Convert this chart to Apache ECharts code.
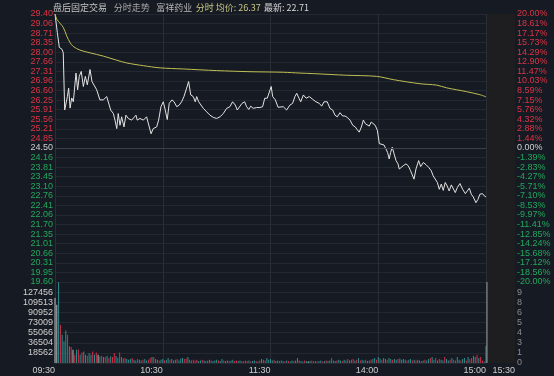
<!DOCTYPE html>
<html><head><meta charset="utf-8">
<script src="https://cdn.jsdelivr.net/npm/echarts@6/dist/echarts.min.js"></script>
<style>html,body{margin:0;padding:0;background:#161a22;}#c{width:554px;height:376px;}</style>
</head><body><div id="c"></div>
<script>
const prevClose = 24.50;
const priceTickLabels = ['29.40','29.06','28.71','28.35','28.00','27.66','27.31','26.96','26.60','26.25','25.91','25.56','25.21','24.85','24.50','24.16','23.81','23.45','23.10','22.76','22.41','22.06','21.70','21.35','21.01','20.66','20.31','19.95','19.60'];
const pctTickLabels = ['20.00%','18.61%','17.17%','15.73%','14.29%','12.90%','11.47%','10.03%','8.59%','7.15%','5.76%','4.32%','2.88%','1.44%','0.00%','-1.39%','-2.83%','-4.27%','-5.71%','-7.10%','-8.53%','-9.97%','-11.41%','-12.85%','-14.24%','-15.68%','-17.12%','-18.56%','-20.00%'];
const volTickLabels = ['','18562','36504','55066','73009','90952','109513','127456',''];
const ahVolTickLabels = ['0','1','3','4','5','6','8','9',''];
const timeLabels = ['09:30','10:30','11:30','14:00','15:00'];
const headerStock = '富祥药业';
const avgPrice = '26.37';
const lastPrice = '22.71';

const priceMinutes = [0,1.3,2.4,3.2,3.9,4.6,5.4,6.1,6.9,7.6,8.4,9.3,10.2,11.7,12.6,13.5,14.6,15.8,16.9,18.0,19.5,20.6,21.7,23.2,25.0,26.9,28.8,29.9,31.0,32.5,33.4,34.4,35.2,36.2,37.1,38.4,39.5,40.8,42.7,43.6,45.1,45.8,47.3,49.2,51.0,52.5,53.5,54.7,56.6,57.7,59.0,60.3,61.4,62.5,63.6,65.1,66.3,67.8,69.2,70.5,71.8,73.3,74.4,75.6,77.0,78.1,78.9,80.0,81.1,82.6,84.5,86.3,88.1,90.0,91.9,93.7,95.6,97.4,98.9,99.7,100.4,101.5,102.6,104.1,105.6,106.7,107.9,109.0,110.4,112.3,114.1,115.6,116.8,118.2,119.3,120.4,121.2,122.7,124.2,125.3,127.1,129.0,130.8,132.3,133.6,134.6,135.5,136.8,138.3,139.8,141.6,143.5,145.3,147.2,148.5,149.8,151.6,153.1,154.6,155.9,157.2,158.7,160.2,161.5,162.7,164.3,165.8,167.2,168.3,169.4,170.6,171.7,172.8,173.9,175.0,176.1,177.2,178.3,179.5,180.6,181.7,183.2,184.3,185.2,186.1,186.9,187.8,188.8,189.9,191.0,191.7,192.8,193.9,195.4,196.7,198.0,199.9,201.0,202.5,203.6,205.1,206.6,208.1,209.5,210.6,211.7,212.9,214.0,215.1,216.2,217.3,218.4,219.5,220.7,221.8,222.9,224.0,225.5,227.0,228.5,229.6,230.7,231.8,232.9,234.4,235.5,236.6,238.1,239.2,240];
const priceValues = [29.40,28.72,28.18,28.23,28.11,27.98,25.89,25.89,26.38,26.69,25.96,26.33,26.19,27.24,26.63,27.12,27.30,26.75,27.12,26.81,27.37,26.93,27.00,26.63,26.26,26.26,26.38,26.44,25.89,25.76,25.52,25.21,25.76,25.33,25.64,25.27,25.70,25.58,25.52,25.58,25.70,25.52,25.58,25.52,25.64,25.27,25.02,25.21,25.27,25.52,26.01,26.19,25.89,25.54,26.13,26.26,26.19,26.01,26.07,26.19,26.38,26.69,26.93,26.44,26.38,26.19,26.38,26.19,26.26,25.95,25.82,25.70,25.62,25.58,25.64,25.76,25.95,26.01,26.19,26.26,26.07,25.89,25.95,26.13,26.19,26.01,25.91,26.03,25.95,25.98,25.98,26.01,26.32,26.32,26.26,26.75,26.38,26.26,25.99,25.95,26.01,25.89,26.07,26.13,26.38,26.50,26.50,26.19,26.44,26.32,26.38,26.28,26.19,26.13,26.03,26.19,26.19,25.95,25.89,25.70,25.64,25.79,25.67,25.67,25.62,25.52,25.33,25.27,25.17,25.08,25.27,25.52,25.39,25.39,25.30,25.45,25.48,25.33,25.15,24.66,24.59,24.61,24.59,24.34,24.10,24.34,24.53,24.29,24.04,23.92,23.73,23.79,23.85,23.92,23.85,23.67,23.36,23.73,24.04,23.82,23.97,23.89,23.79,23.67,23.48,23.48,23.24,22.99,23.18,22.95,23.24,23.11,22.93,23.15,23.08,22.87,23.05,23.20,22.99,22.83,22.93,23.03,22.81,22.71,22.50,22.62,22.81,22.83,22.74,22.71];

const avgMinutes = [0,1.1,4.6,6.5,8.4,10.2,13.9,19.5,26.9,34.4,39.9,49.2,58.5,71.4,90,108.6,127.1,136.4,143.8,162.4,179.1,188.4,203.2,212.5,218.1,229.2,236.6,240];
const avgValues = [29.40,29.20,28.91,28.60,28.35,28.21,28.08,27.98,27.86,27.71,27.61,27.51,27.43,27.39,27.33,27.29,27.27,27.24,27.22,27.16,27.12,27.00,26.85,26.80,26.70,26.56,26.45,26.37];

const volumes = [116900,104900,145000,68900,50900,38900,58600,50900,29900,28700,23900,15000,23900,24500,15000,19100,20900,15000,13100,18000,15000,20900,15000,19100,15000,11900,13100,10800,10800,13100,
9000,12000,11000,18000,12500,9500,19100,10800,8000,9000,7200,6000,7200,9000,6000,4700,7200,6000,4700,6000,7200,4700,6000,9000,10800,10800,7200,6000,4700,6000,
7200,4700,6000,9000,6000,7200,4700,6000,7200,4700,8000,9000,7200,8000,10800,6000,4700,6000,4700,6000,3500,4700,6000,4700,3500,4700,6000,4700,3500,4700,
6000,4700,3500,7200,4700,3500,4700,3500,4700,6000,3500,4700,3500,4700,3500,2900,4700,3500,4700,2900,3500,4700,3500,2900,4700,7200,6000,4700,9000,6000,
7200,4700,6000,3500,4700,3500,4700,3500,2900,4700,3500,2900,4700,3500,4700,9000,4700,3500,2900,4700,3500,2900,3500,4700,2900,3500,2900,3500,4700,2900,
3500,4700,3500,4700,9000,4700,3500,4700,6000,4700,3500,6000,4700,7200,4700,6000,7200,4700,6000,9000,4700,6000,4700,6000,3500,4700,6000,7200,9000,6000,
10800,8000,6000,9000,7200,6000,9000,7200,6000,7200,6000,7200,8000,6000,7200,6000,4700,6000,7200,4700,6000,4700,6000,4700,3500,4700,6000,4700,7200,9000,
10800,6000,9000,4700,7200,6000,4700,10800,7200,4700,6000,9000,6000,4700,10800,6000,4700,7200,9000,4700,10800,7200,9000,13100,10800,15000,9000,10800,4700,2900,
31000];
const volDirs = 'ffdudddudufudududdudduduf' +
  'dudududuudduddudddudduddudduududdudduddudd' +
  'duddduudduuuudduddududddudduddudduudduduududdududdudddduddudd' +
  'ududdudduddudfdudduddududdudduddudduddudududdudduddudduddudduddudd' +
  'dduddududdududduddududdudduduuddudduduudduduudduduudduddduuuddd';
const ahVolumes = [[1, 10.16]];

const RED = '#dc3445', GREEN = '#22a85e', NEUTRAL = '#cfcfcf';
const VOLC = {u: '#d4304a', d: '#2c8e8e', f: '#bdbdbd'};
const numFont = 'Liberation Sans, Arial, sans-serif';

function priceIdx(v) { return Math.round((29.40 - v) / 0.35); }
function labelColor(v) { const i = priceIdx(v); return i < 14 ? RED : (i === 14 ? NEUTRAL : GREEN); }

const volData = volumes.map((v, i) => ({
  value: [i, v],
  itemStyle: {color: VOLC[volDirs[i] || 'd']}
}));

const chart = echarts.init(document.getElementById('c'), null, {renderer: 'canvas'});
const splitC = '#242830';
chart.setOption({
  backgroundColor: '#161a22',
  animation: false,
  textStyle: {fontFamily: numFont},
  graphic: [{
    type: 'text', left: 53, top: 2,
    style: {
      text: '{a|盘后固定交易}  {b|分时走势}  {c|' + headerStock + '} {d|分时 均价: ' + avgPrice + '} {e|最新: ' + lastPrice + '}',
      rich: {
        a: {fill: '#c4c4c4', fontSize: 9, fontFamily: 'Noto Sans CJK SC'},
        b: {fill: '#a8a8a8', fontSize: 9, fontFamily: 'Noto Sans CJK SC'},
        c: {fill: '#b4b4b4', fontSize: 9, fontFamily: 'Noto Sans CJK SC'},
        d: {fill: '#c8c882', fontSize: 9, fontFamily: 'Noto Sans CJK SC'},
        e: {fill: '#d6d6d6', fontSize: 9, fontFamily: 'Noto Sans CJK SC'}
      }
    }
  }],
  grid: [
    {left: 55, right: 68, top: 14, height: 268},
    {left: 55, right: 68, top: 282, height: 81},
    {left: 486, width: 29, top: 14, height: 268, show: true, backgroundColor: '#1e1e20', borderWidth: 0},
    {left: 486, width: 29, top: 282, height: 81, show: true, backgroundColor: '#1e1e20', borderWidth: 0}
  ],
  xAxis: [
    {gridIndex: 0, type: 'value', min: 0, max: 240, interval: 60,
     axisLine: {show: false}, axisTick: {show: false}, axisLabel: {show: false},
     splitLine: {show: true, lineStyle: {color: '#2a2e36', width: 1}}},
    {gridIndex: 1, type: 'value', min: 0, max: 240, interval: 60,
     axisLine: {show: false}, axisTick: {show: false},
     splitLine: {show: true, lineStyle: {color: '#2a2e36', width: 1}},
     axisLabel: {show: true, showMinLabel: true, showMaxLabel: true, align: 'right', margin: 3,
       color: '#cfcfcf', fontSize: 9, fontFamily: numFont,
       formatter: v => timeLabels[Math.round(v / 60)] || ''}},
    {gridIndex: 2, type: 'value', min: 0, max: 30, show: false},
    {gridIndex: 3, type: 'value', min: 0, max: 30, interval: 30,
     axisLine: {show: false}, axisTick: {show: false}, splitLine: {show: false},
     axisLabel: {show: true, showMaxLabel: true, align: 'right', margin: 3, color: '#cfcfcf', fontSize: 9, fontFamily: numFont,
       formatter: v => (v === 30 ? '15:30' : '')}}
  ],
  yAxis: [
    {gridIndex: 0, type: 'value', min: 19.60, max: 29.40, interval: 0.35, position: 'left',
     axisLine: {show: false}, axisTick: {show: false},
     splitLine: {show: true, lineStyle: {color: splitC, width: 1}},
     axisLabel: {margin: 2, fontSize: 9, fontFamily: numFont, showMinLabel: true, showMaxLabel: true,
       color: v => labelColor(v),
       formatter: v => priceTickLabels[priceIdx(v)] || ''}},
    {gridIndex: 0, type: 'value', min: 19.60, max: 29.40, interval: 0.35, position: 'right', offset: 29,
     axisLine: {show: false}, axisTick: {show: false}, splitLine: {show: false},
     axisLabel: {margin: 2, fontSize: 9, fontFamily: numFont, align: 'left', showMinLabel: true, showMaxLabel: true,
       color: v => labelColor(v),
       formatter: v => pctTickLabels[priceIdx(v)] || ''}},
    {gridIndex: 1, type: 'value', min: 0, max: 145664, interval: 18208, position: 'left',
     axisLine: {show: false}, axisTick: {show: false},
     splitLine: {show: true, lineStyle: {color: splitC, width: 1}},
     axisLabel: {margin: 2, fontSize: 9, fontFamily: numFont, color: '#cfcfcf',
       formatter: v => volTickLabels[Math.round(v / 18208)] || ''}},
    {gridIndex: 2, type: 'value', min: 0, max: 1, show: false},
    {gridIndex: 3, type: 'value', min: 0, max: 10.16, interval: 1.27, position: 'right',
     axisLine: {show: false}, axisTick: {show: false},
     splitLine: {show: false},
     axisLabel: {margin: 2, fontSize: 9, fontFamily: numFont, color: '#8c8c8c', align: 'left',
       formatter: v => ahVolTickLabels[Math.round(v / 1.27)] || ''}}
  ],
  series: [
    {type: 'line', xAxisIndex: 0, yAxisIndex: 0, symbol: 'none', silent: true,
     data: priceMinutes.map((t, i) => [t, priceValues[i]]),
     lineStyle: {color: '#e4e4e4', width: 1},
     markLine: {silent: true, symbol: 'none', label: {show: false},
       lineStyle: {color: '#3c3f46', type: 'solid', width: 1},
       data: [{yAxis: prevClose}]}},
    {type: 'line', xAxisIndex: 0, yAxisIndex: 0, symbol: 'none', silent: true, smooth: 0.3,
     data: avgMinutes.map((t, i) => [t, avgValues[i]]),
     lineStyle: {color: '#bfbf55', width: 1}},
    {type: 'bar', xAxisIndex: 1, yAxisIndex: 2, barWidth: 1, silent: true, clip: false,
     data: volData},
    {type: 'bar', xAxisIndex: 3, yAxisIndex: 4, barWidth: 1, silent: true,
     data: ahVolumes, itemStyle: {color: '#9c9c9c'}}
  ]
});
</script></body></html>
